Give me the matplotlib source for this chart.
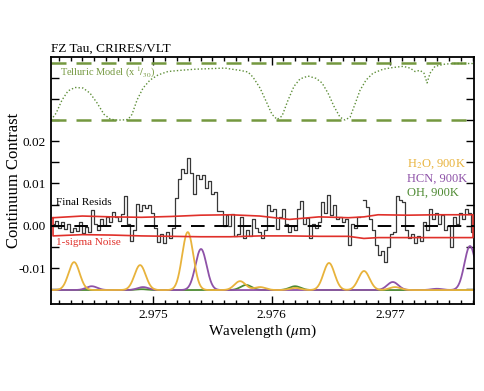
"""FZ Tau CRIRES residuals with telluric model and slab model lines."""

import numpy as np
import matplotlib
matplotlib.use('Agg')
import matplotlib.pyplot as plt

plt.rcParams['font.family'] = ['Liberation Serif', 'DejaVu Serif']
plt.rcParams['mathtext.fontset'] = 'stix'

# ---- data ----
# final residuals, units of 1e-3 continuum, on a uniform wavelength grid
wave_start, wave_end = 2.974152, 2.977702
resids = [0.5, 1.2, -0.5, 1.0, -0.8, 0.3, -1.5, -0.5, -1.2, 0.8,
          -1.8, -0.3, -1.5, 3.8, 0.5, -1.0, 1.5, 0.2, 2.0, 1.0,
          3.2, 2.0, 1.2, 2.8, 7.0, 0.5, -3.5, -1.0, 5.2, 3.5,
          5.0, 4.2, 5.0, 3.0, -0.5, -3.8, -2.0, -4.0, -1.5, -2.8,
          -0.5, 6.5, 11.0, 13.5, 12.5, 16.0, 12.5, 7.5, 12.0, 11.0,
          12.0, 9.0, 10.5, 7.5, 8.0, 3.5, 3.5, 0.0, 2.5, 0.0,
          2.8, -2.5, -2.0, 2.0, -3.0, -1.0, -2.5, 1.5, -0.5, -1.5,
          -3.0, -1.0, 5.0, 3.5, 4.0, -0.8, 2.0, 4.0, 0.5, -1.5,
          0.0, -1.0, 4.0, 5.8, 0.5, 1.8, -3.0, 0.5, -0.5, 1.0,
          5.5, 3.0, 7.3, 2.5, 5.0, 1.5, 2.0, 1.0, 1.5, -4.5,
          0.5, -0.5, 2.0, np.nan, 6.0, 4.5, 1.5, -1.0, -4.5, -7.0,
          -6.0, -8.5, -5.0, -2.0, -1.5, 7.0, 6.0, 5.5, -1.0, -3.0,
          -2.0, -4.0, -2.5, -3.5, 1.0, -1.0, 4.0, 1.5, 3.0, 0.5,
          2.5, -1.0, 0.0, -5.0, 2.0, 0.5, 3.0, 1.5, 4.0, 3.0,
          -1.5]

# 1-sigma noise envelope (units of 1e-3)
noise_wave = [2.974152, 2.974400, 2.974650, 2.974900, 2.975150, 2.975400,
              2.975650, 2.975900, 2.976150, 2.976400, 2.976650, 2.976780,
              2.976900, 2.977150, 2.977400, 2.977702]
noise_up = [1.9, 2.3, 2.1, 2.0, 2.2, 2.5, 2.6, 2.3, 1.5, 2.1,
            1.9, 2.1, 2.6, 2.5, 2.6, 2.6]
noise_lo = [-2.4, -2.1, -2.2, -2.4, -2.5, -2.6, -2.6, -2.4, -2.4, -2.5,
            -2.5, -3.0, -2.8, -2.8, -2.8, -2.8]

# telluric transmission (0 = saturated, 1 = clear)
tell_wave = [2.974135, 2.974178, 2.974228, 2.974279, 2.974338, 2.974406,
             2.974465, 2.974524, 2.974583, 2.974634, 2.974676, 2.974735,
             2.974786, 2.974820, 2.974862, 2.974913, 2.974972, 2.975040,
             2.975124, 2.975226, 2.975352, 2.975479, 2.975606, 2.975665,
             2.975733, 2.975801, 2.975843, 2.975902, 2.975953, 2.976003,
             2.976046, 2.976088, 2.976139, 2.976189, 2.976240, 2.976308,
             2.976375, 2.976426, 2.976477, 2.976527, 2.976578, 2.976620,
             2.976663, 2.976705, 2.976747, 2.976798, 2.976857, 2.976942,
             2.977026, 2.977111, 2.977170, 2.977212, 2.977254, 2.977288,
             2.977314, 2.977339, 2.977381, 2.977466, 2.977550, 2.977711]
tell_trans = [0.0, 0.12, 0.35, 0.51, 0.57, 0.56, 0.47, 0.30, 0.10, 0.02,
              0.0, 0.0, 0.01, 0.10, 0.35, 0.56, 0.70, 0.79, 0.85, 0.87,
              0.89, 0.90, 0.91, 0.89, 0.87, 0.84, 0.75, 0.56, 0.33, 0.10,
              0.01, 0.07, 0.35, 0.59, 0.72, 0.77, 0.73, 0.65, 0.47, 0.24,
              0.05, 0.0, 0.05, 0.28, 0.52, 0.70, 0.82, 0.89, 0.92, 0.94,
              0.91, 0.85, 0.87, 0.82, 0.65, 0.82, 0.94, 0.98, 0.99, 0.99]

# slab model lines: centres (um) and peak heights (contrast)
h2o_cen = [2.974330, 2.974888, 2.975291, 2.975733, 2.975902, 2.976198,
           2.976485, 2.976781, 2.977043]
h2o_amp = [0.0066, 0.0059, 0.0137, 0.0021, 0.0007, 0.0005,
           0.0064, 0.0045, 0.0007]
hcn_cen = [2.974479, 2.974913, 2.975403, 2.977024, 2.977398, 2.977677]
hcn_amp = [0.0009, 0.0007, 0.0097, 0.0019, 0.0003, 0.0104]
oh_cen = [2.974900, 2.975784, 2.976198]
oh_amp = [0.0002, 0.0012, 0.0009]

# ---- plot ----
fig = plt.figure(figsize=(4.84, 3.91), dpi=100)
ax = fig.add_axes([0.1054, 0.2225, 0.874, 0.6317])

wave = np.linspace(wave_start, wave_end, len(resids))
ax.plot(wave, np.array(resids) * 1e-3, color='#383838', lw=0.9,
        drawstyle='steps-mid', zorder=4)

# noise envelope drawn as a closed loop
nw = np.array(noise_wave)
loop_x = np.concatenate([nw, nw[::-1], nw[:1]])
loop_y = np.concatenate([noise_up, noise_lo[::-1], noise_up[:1]]) * 1e-3
ax.plot(loop_x, loop_y, color='#e0302a', lw=1.2, zorder=5)

ax.axhline(0.0, color='black', lw=1.4, ls=(0, (7, 5)), zorder=6)

# telluric model, shifted to the top of the panel
tell_base, tell_scale = 0.025, 0.0135
tell_col = '#74983f'
ax.axhline(tell_base, color=tell_col, lw=1.8, ls=(0, (6, 4)))
ax.axhline(tell_base + tell_scale, color=tell_col, lw=1.8, ls=(0, (6, 4)))
ax.plot(tell_wave, tell_base + np.array(tell_trans) * tell_scale,
        color='#5f8f3a', lw=1.0, ls=(0, (1, 1.5)))

# model spectra
base = -0.0152
sig = 0.000047
mw = np.linspace(2.9741, 2.9778, 2000)
for cen, amp, col in [(oh_cen, oh_amp, '#4e8a32'),
                      (hcn_cen, hcn_amp, '#8e52a8'),
                      (h2o_cen, h2o_amp, '#e8b33c')]:
    prof = np.zeros_like(mw)
    for c, a in zip(cen, amp):
        prof += a * np.exp(-0.5 * ((mw - c) / sig) ** 2)
    ax.plot(mw, base + prof, color=col, lw=1.3)

# labels inside the panel
ax.text(0.012, 0.0055, 'Final Resids', fontsize=8, color='black',
        transform=ax.get_yaxis_transform(), va='center')
ax.text(0.012, -0.0040, '1-sigma Noise', fontsize=8, color='#e0302a',
        transform=ax.get_yaxis_transform(), va='center')
ax.text(0.022, 0.0362, r'Telluric Model (x $^{1}\!/_{30}$)', fontsize=7.5,
        color='#74983f', transform=ax.get_yaxis_transform(), va='center')
ax.text(0.842, 0.0146, r'H$_2$O, 900K', fontsize=9, color='#e8b33c',
        transform=ax.get_yaxis_transform(), va='center')
ax.text(0.842, 0.0111, 'HCN, 900K', fontsize=9, color='#8e52a8',
        transform=ax.get_yaxis_transform(), va='center')
ax.text(0.842, 0.0077, 'OH, 900K', fontsize=9, color='#4e8a32',
        transform=ax.get_yaxis_transform(), va='center')

ax.set_xlim(2.974135, 2.977711)
ax.set_ylim(-0.0185, 0.0399)

ax.set_xticks([2.975, 2.976, 2.977])
ax.set_xticklabels(['2.975', '2.976', '2.977'])
ax.set_xticks(np.arange(2.9742, 2.97775, 0.0001), minor=True)
yt = np.arange(-0.015, 0.0376, 0.005)
ax.set_yticks(yt)
ax.set_yticklabels(['', '-0.01', '', '0.00', '', '0.01', '', '0.02',
                    '', '', ''][:len(yt)])
ax.tick_params(which='both', direction='in', top=True, right=True,
               labelsize=9.5, width=1.0)
ax.tick_params(which='major', length=6)
ax.tick_params(which='minor', length=3)
for s in ax.spines.values():
    s.set_linewidth(1.3)

ax.set_xlabel(r'Wavelength ($\mu$m)', fontsize=11, labelpad=1)
ax.set_ylabel('Continuum Contrast', fontsize=12)
ax.yaxis.set_label_coords(-0.068, 0.5)
ax.set_title('FZ Tau, CRIRES/VLT', fontsize=9.5, loc='left', pad=4)

fig.savefig('out.png', dpi=100)
